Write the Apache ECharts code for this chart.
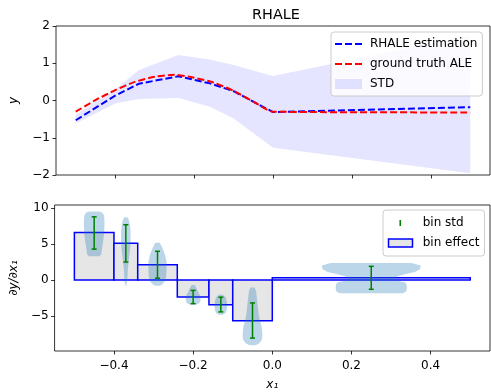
<!DOCTYPE html>
<html>
<head>
<meta charset="utf-8">
<script src="https://cdn.jsdelivr.net/npm/echarts@6/dist/echarts.min.js"></script>
<style>
  html, body { margin: 0; padding: 0; background: #fff; }
  #chart { width: 491px; height: 392px; }
</style>
</head>
<body>
<div id="chart"></div>
<script>
// top panel: RHALE estimate vs ground truth
const binEdges = [-0.5, -0.4, -0.34, -0.24, -0.16, -0.1, 0.0, 0.5]
const rhaleY = [-0.53, 0.13, 0.45, 0.65, 0.46, 0.25, -0.31, -0.18]
const stdUpper = [-0.38, 0.3, 0.82, 1.22, 1.1, 0.95, 0.66, 1.75]
const stdLower = [-0.62, -0.08, 0.04, 0.07, -0.17, -0.48, -1.27, -1.95]
const truthX = [-0.5, -0.45, -0.4, -0.35, -0.3, -0.25, -0.2, -0.15, -0.1, -0.05, 0.0, 0.5]
const truthY = [-0.3, 0.01, 0.28, 0.5, 0.64, 0.69, 0.61, 0.48, 0.26, -0.03, -0.3, -0.32]

// bottom panel: per-bin derivative effect
const binEffect = [6.6, 5.12, 2.12, -2.38, -3.45, -5.68, 0.3]
const binStdLow = [4.3, 2.5, 0.25, -3.3, -4.45, -8.1, -1.3]
const binStdHigh = [8.8, 7.7, 4.0, -1.45, -2.4, -3.2, 1.9]

// violin outlines: y levels and half widths (x units)
const violinY = [
  [9.55, 9.4, 9.0, 8.3, 7.5, 6.5, 5.5, 4.5, 3.6, 3.3],
  [8.75, 8.3, 7.5, 6.5, 5.5, 4.5, 3.5, 2.5, 1.5, 0.5, -0.3, -0.8],
  [5.2, 4.5, 3.5, 2.5, 1.5, 0.5, -0.2, -0.6, -0.8],
  [-0.7, -1.1, -1.6, -2.1, -2.6, -3.0, -3.3, -3.45],
  [-2.05, -2.4, -3.0, -3.6, -4.2, -4.6, -4.85],
  [-1.05, -1.5, -2.5, -3.5, -4.5, -5.5, -6.5, -7.5, -8.3, -8.8, -9.1],
  [2.37, 2.0, 1.5, 1.1, 0.8, 0.5, 0.2, -0.1, -0.3, -0.6, -1.2, -1.6, -1.85]
]
const violinW = [
  [0.012, 0.02, 0.025, 0.026, 0.026, 0.025, 0.023, 0.02, 0.018, 0.014],
  [0.004, 0.008, 0.011, 0.012, 0.012, 0.011, 0.009, 0.007, 0.005, 0.004, 0.003, 0.001],
  [0.006, 0.012, 0.019, 0.023, 0.023, 0.022, 0.018, 0.012, 0.006],
  [0.004, 0.008, 0.012, 0.017, 0.019, 0.018, 0.014, 0.007],
  [0.005, 0.012, 0.015, 0.016, 0.015, 0.012, 0.005],
  [0.005, 0.009, 0.011, 0.013, 0.015, 0.018, 0.023, 0.025, 0.024, 0.018, 0.008],
  [0.102, 0.125, 0.123, 0.11, 0.085, 0.065, 0.06, 0.065, 0.085, 0.089, 0.09, 0.088, 0.08]
]

const FONT = "DejaVu Sans"
const fmt = (v) => (v < 0 ? "\u2212" : "") + Math.abs(v)
const fmt1 = (v) => (v < 0 ? "\u2212" : "") + Math.abs(v).toFixed(1)

const binCenters = binEffect.map((_, i) => (binEdges[i] + binEdges[i + 1]) / 2)

const chart = echarts.init(document.getElementById("chart"), null, { renderer: "canvas" })

const dashIcon = "path://M0,0M30,10M0,4h7v2h-7zM10,4h7v2h-7zM20,4h7v2h-7z"

const tickStyle = { show: true, length: 3.5, lineStyle: { color: "#000", width: 0.8 } }

chart.setOption({
  backgroundColor: "#fff",
  animation: false,
  textStyle: { fontFamily: FONT },
  title: {
    text: "RHALE",
    left: 271,
    top: 3,
    textAlign: "center",
    textStyle: { fontFamily: FONT, fontSize: 14.4, fontWeight: "normal", color: "#000" },
  },
  grid: [
    { left: 51, top: 26, width: 439, height: 149, show: true, borderColor: "#000", borderWidth: 0.8, backgroundColor: "transparent" },
    { left: 51, top: 205, width: 439, height: 149, show: true, borderColor: "#000", borderWidth: 0.8, backgroundColor: "transparent" },
  ],
  legend: [
    {
      orient: "vertical",
      left: 331,
      top: 32,
      padding: [6, 5, 6, 4],
      itemGap: 8,
      itemWidth: 30,
      itemHeight: 10,
      backgroundColor: "rgba(255,255,255,0.8)",
      borderColor: "#cccccc",
      borderWidth: 1,
      borderRadius: 3,
      textStyle: { fontFamily: FONT, fontSize: 12, color: "#000" },
      data: [
        { name: "RHALE estimation", icon: dashIcon, itemStyle: { color: "#0000ff", borderWidth: 0 } },
        { name: "ground truth ALE", icon: dashIcon, itemStyle: { color: "#ff0000", borderWidth: 0 } },
        { name: "STD", icon: "path://M0,0M30,10M0,0h27v10h-27z", itemStyle: { color: "rgba(0,0,255,0.1)", borderWidth: 0 } },
      ],
    },
    {
      orient: "vertical",
      left: 383,
      top: 210,
      padding: [7, 5, 7, 4],
      itemGap: 8,
      itemWidth: 30,
      itemHeight: 10,
      backgroundColor: "rgba(255,255,255,0.8)",
      borderColor: "#cccccc",
      borderWidth: 1,
      borderRadius: 3,
      textStyle: { fontFamily: FONT, fontSize: 12, color: "#000" },
      data: [
        { name: "bin std", icon: "path://M0,0M30,10M11.7,2h1.6v6h-1.6z", itemStyle: { color: "#008000", borderWidth: 0 } },
        { name: "bin effect", icon: "path://M0,0M30,10M0.75,1h24v8h-24z", itemStyle: { color: "#e6e6e6", borderColor: "#0000ff", borderWidth: 1.5 } },
      ],
    },
  ],
  xAxis: [
    {
      type: "value",
      gridIndex: 0,
      min: -0.55,
      max: 0.55,
      axisLine: { show: false, onZero: false },
      axisTick: { ...tickStyle, customValues: [-0.4, -0.2, 0, 0.2, 0.4] },
      axisLabel: { show: false },
      splitLine: { show: false },
    },
    {
      type: "value",
      gridIndex: 1,
      min: -0.55,
      max: 0.55,
      name: "x\u2081",
      nameLocation: "middle",
      nameGap: 28,
      nameTextStyle: { fontFamily: FONT, fontSize: 12, fontStyle: "italic", color: "#000" },
      axisLine: { show: false, onZero: false },
      axisTick: { ...tickStyle, customValues: [-0.4, -0.2, 0, 0.2, 0.4] },
      axisLabel: { color: "#000", fontSize: 12, margin: 9, customValues: [-0.4, -0.2, 0, 0.2, 0.4], formatter: fmt1 },
      splitLine: { show: false },
    },
  ],
  yAxis: [
    {
      type: "value",
      gridIndex: 0,
      min: -2,
      max: 2,
      interval: 1,
      name: "y",
      nameLocation: "middle",
      nameGap: 36,
      nameTextStyle: { fontFamily: FONT, fontSize: 12, fontStyle: "italic", color: "#000" },
      axisLine: { show: false, onZero: false },
      axisTick: tickStyle,
      axisLabel: { color: "#000", fontSize: 12, margin: 6, formatter: fmt },
      splitLine: { show: false },
    },
    {
      type: "value",
      gridIndex: 1,
      min: -9.9,
      max: 10.45,
      name: "\u2202y/\u2202x\u2081",
      nameLocation: "middle",
      nameGap: 32,
      nameTextStyle: { fontFamily: FONT, fontSize: 12, fontStyle: "italic", color: "#000" },
      axisLine: { show: false, onZero: false },
      axisTick: { ...tickStyle, customValues: [-5, 0, 5, 10] },
      axisLabel: { color: "#000", fontSize: 12, margin: 6, customValues: [-5, 0, 5, 10], formatter: fmt },
      splitLine: { show: false },
    },
  ],
  series: [
    // std band
    {
      name: "STD",
      type: "custom",
      xAxisIndex: 0,
      yAxisIndex: 0,
      z: 1,
      itemStyle: { color: "rgba(0,0,255,0.1)" },
      data: [[0, 0]],
      renderItem: (params, api) => {
        const pts = []
        binEdges.forEach((x, i) => pts.push(api.coord([x, stdUpper[i]])))
        for (let i = binEdges.length - 1; i >= 0; i--) pts.push(api.coord([binEdges[i], stdLower[i]]))
        return { type: "polygon", shape: { points: pts }, style: { fill: "rgba(0,0,255,0.1)" }, silent: true }
      },
    },
    {
      name: "RHALE estimation",
      type: "line",
      xAxisIndex: 0,
      yAxisIndex: 0,
      z: 3,
      symbol: "none",
      data: binEdges.map((x, i) => [x, rhaleY[i]]),
      lineStyle: { color: "#0000ff", width: 2, type: [7, 3] },
      itemStyle: { color: "#0000ff" },
    },
    {
      name: "ground truth ALE",
      type: "line",
      xAxisIndex: 0,
      yAxisIndex: 0,
      z: 4,
      symbol: "none",
      smooth: 0.2,
      data: truthX.map((x, i) => [x, truthY[i]]),
      lineStyle: { color: "#ff0000", width: 2, type: [7, 3] },
      itemStyle: { color: "#ff0000" },
    },
    // bins
    {
      name: "bin effect",
      type: "custom",
      xAxisIndex: 1,
      yAxisIndex: 1,
      z: 2,
      itemStyle: { color: "#e6e6e6" },
      encode: { x: [0, 1], y: 2 },
      data: binEffect.map((h, i) => [binEdges[i], binEdges[i + 1], h]),
      renderItem: (params, api) => {
        const a = api.coord([api.value(0), api.value(2)])
        const b = api.coord([api.value(1), 0])
        return {
          type: "rect",
          shape: { x: a[0], y: Math.min(a[1], b[1]), width: b[0] - a[0], height: Math.abs(b[1] - a[1]) },
          style: { fill: "#e6e6e6", stroke: "#0000ff", lineWidth: 1.5 },
        }
      },
    },
    // violins
    {
      type: "custom",
      xAxisIndex: 1,
      yAxisIndex: 1,
      z: 3,
      encode: { x: 0, y: 1 },
      data: binCenters.map((c, i) => [c, binEffect[i]]),
      renderItem: (params, api) => {
        const i = params.dataIndex
        const c = api.value(0)
        const ys = violinY[i]
        const ws = violinW[i]
        const pts = []
        ys.forEach((y, k) => pts.push(api.coord([c - ws[k], y])))
        for (let k = ys.length - 1; k >= 0; k--) pts.push(api.coord([c + ws[k], ys[k]]))
        return { type: "polygon", shape: { points: pts }, style: { fill: "rgba(31,119,180,0.3)" } }
      },
    },
    // error bars
    {
      name: "bin std",
      type: "custom",
      xAxisIndex: 1,
      yAxisIndex: 1,
      z: 4,
      itemStyle: { color: "#008000" },
      encode: { x: 0, y: [1, 2] },
      data: binCenters.map((c, i) => [c, binStdLow[i], binStdHigh[i]]),
      renderItem: (params, api) => {
        const lo = api.coord([api.value(0), api.value(1)])
        const hi = api.coord([api.value(0), api.value(2)])
        const st = { stroke: "#008000", lineWidth: 1.5 }
        return {
          type: "group",
          children: [
            { type: "line", shape: { x1: lo[0], y1: lo[1], x2: hi[0], y2: hi[1] }, style: st },
            { type: "line", shape: { x1: lo[0] - 2.5, y1: lo[1], x2: lo[0] + 2.5, y2: lo[1] }, style: st },
            { type: "line", shape: { x1: hi[0] - 2.5, y1: hi[1], x2: hi[0] + 2.5, y2: hi[1] }, style: st },
          ],
        }
      },
    },
  ],
})
</script>
</body>
</html>
